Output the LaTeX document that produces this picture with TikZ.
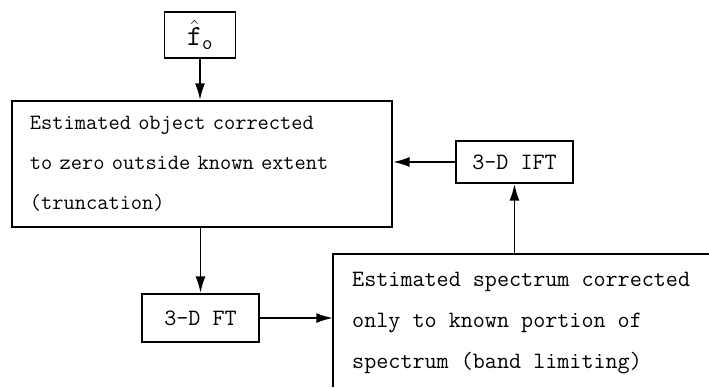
\documentclass[tikz,border=0pt]{standalone}
\usetikzlibrary{arrows.meta,calc}

\tikzset{
  kasten/.style={draw, line width=1.6pt, inner sep=0pt, font=\ttfamily\fontsize{20}{24}\selectfont},
  pfeil/.style={line width=1.6pt, -{Latex[length=0.5cm,width=0.3cm]}}
}

\begin{document}
\begin{tikzpicture}[x=0.03cm, y=-0.03cm]

            % Rahmen des Bildes
            \useasboundingbox (0,0) rectangle (709,387);

            % Startwert
            \node[kasten, minimum width=2.13cm, minimum height=1.38cm, font=\fontsize{24}{28}\selectfont] (fo) at (200,35)
            {$\hat{\mathtt{f}}_{\mathtt{o}}$};

            % Objekt auf bekannte Ausdehnung beschneiden
            \node[kasten, inner xsep=0.54cm, text width=10.32cm, minimum height=3.78cm, align=left,
                  font=\ttfamily\fontsize{18.6}{34}\selectfont] (objekt) at (202,164)
            {Estimated object corrected\\to zero outside known extent\\(truncation)};

            % Transformationen
            \node[kasten, minimum width=3.51cm, minimum height=1.26cm] (ift) at (514.5,162) {3-D IFT};
            \node[kasten, minimum width=3.51cm, minimum height=1.44cm] (ft) at (200.5,318) {3-D FT};

            % Spektrum (offener Rahmen bis zum Rand)
            \node[inner sep=0pt, minimum width=11.28cm, minimum height=3.99cm, anchor=north west] (spek) at (333,254) {};
            \draw[line width=1.6pt] (spek.south west) -- (spek.north west) -- (spek.north east);
            \node[anchor=west, align=left, inner sep=0pt, font=\ttfamily\fontsize{20}{35}\selectfont] (spektext)
            at ($(spek.west)+(19,2.5)$)
            {Estimated spectrum corrected\\only to known portion of\\spectrum (band limiting)};

            % Pfeile
            \draw[pfeil] (fo.south) -- (fo.south |- objekt.north);
            \draw[pfeil] (ft.north |- objekt.south) -- (ft.north);
            \draw[pfeil] (ft.east) -- (ft.east -| spek.west);
            \draw[pfeil] (ift.south |- spek.north) -- (ift.south);
            \draw[pfeil] (ift.west) -- (ift.west -| objekt.east);

\end{tikzpicture}
\end{document}
